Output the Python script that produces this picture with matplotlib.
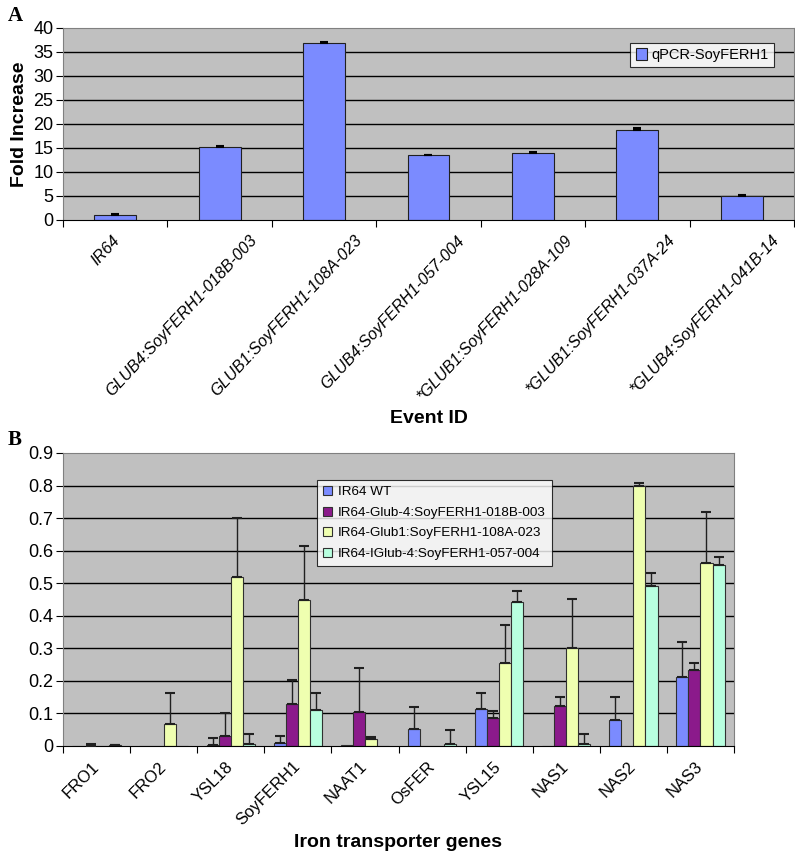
import matplotlib
matplotlib.use("Agg")
import matplotlib.pyplot as plt
import matplotlib.transforms as mtransforms
import numpy as np

plt.rcParams['font.family'] = ['Liberation Sans', 'DejaVu Sans']

# panel A data
events = ['IR64', 'GLUB4:SoyFERH1-018B-003', 'GLUB1:SoyFERH1-108A-023',
          'GLUB4:SoyFERH1-057-004', '*GLUB1:SoyFERH1-028A-109',
          '*GLUB1:SoyFERH1-037A-24', '*GLUB4:SoyFERH1-041B-14']
fold = [1.0, 15.2, 36.9, 13.5, 14.0, 18.8, 5.0]
fold_err = [0.2, 0.15, 0.2, 0.1, 0.2, 0.3, 0.15]

# panel B data
genes = ['FRO1', 'FRO2', 'YSL18', 'SoyFERH1', 'NAAT1', 'OsFER', 'YSL15', 'NAS1', 'NAS2', 'NAS3']
series = ['IR64 WT', 'IR64-Glub-4:SoyFERH1-018B-003',
          'IR64-Glub1:SoyFERH1-108A-023', 'IR64-IGlub-4:SoyFERH1-057-004']
wt = [0, 0, 0.003, 0.010, 0.002, 0.052, 0.114, 0, 0.080, 0.212]
wt_err = [0, 0, 0.023, 0.022, 0, 0.068, 0.048, 0, 0.070, 0.106]
g4 = [0.001, 0, 0.030, 0.128, 0.103, 0, 0.087, 0.124, 0, 0.232]
g4_err = [0.005, 0, 0.070, 0.075, 0.138, 0, 0.021, 0.026, 0, 0.022]
g1 = [0, 0.068, 0.520, 0.450, 0.020, 0, 0.254, 0.302, 0.798, 0.562]
g1_err = [0, 0.094, 0.180, 0.165, 0.008, 0, 0.118, 0.150, 0.010, 0.158]
ig4 = [0.002, 0, 0.007, 0.112, 0, 0.006, 0.443, 0.006, 0.490, 0.555]
ig4_err = [0.002, 0, 0.031, 0.050, 0, 0.042, 0.032, 0.032, 0.040, 0.025]

colors_b = ['#7b8bff', '#8b1a8b', '#efffb0', '#b8ffdf']
bg = '#c0c0c0'

fig = plt.figure(figsize=(7.95, 8.52), dpi=100)

def style_axes(ax, ymax, step, ncat):
    ax.set_facecolor(bg)
    ax.set_ylim(0, ymax)
    ax.set_xlim(0, ncat)
    ax.set_yticks(np.arange(0, ymax + step / 2, step))
    for y in np.arange(step, ymax - step / 2, step):
        ax.axhline(y, color='black', lw=1.0, zorder=1)
    for s in ['top', 'right', 'left']:
        ax.spines[s].set_color('#808080')
    ax.spines['bottom'].set_color('black')
    ax.set_xticks(np.arange(0, ncat + 1), minor=False)
    ax.tick_params(axis='x', which='major', length=5, direction='out', labelbottom=False)
    ax.tick_params(axis='y', length=5, direction='out', labelsize=13, pad=2)
    ax.set_xticks(np.arange(ncat) + 0.5, minor=True)
    ax.tick_params(axis='x', which='minor', length=0)

# ---- panel A
axA = fig.add_axes([63 / 795, 1 - 220 / 852, 731 / 795, 192 / 852])
style_axes(axA, 40, 5, len(events))
xa = np.arange(len(events)) + 0.5
axA.bar(xa, fold, width=0.4, color='#7b8bff', edgecolor='#202020', lw=0.8,
        zorder=2, label='qPCR-SoyFERH1')
axA.errorbar(xa, fold, yerr=[np.zeros(len(fold)), fold_err], fmt='none',
             ecolor='black', elinewidth=1, capsize=3, capthick=1.5, zorder=3)
labsA = axA.set_xticklabels(events, minor=True, rotation=47, ha='right',
                            rotation_mode='anchor', va='center',
                            fontsize=11.6, style='italic')
axA.tick_params(axis='x', which='minor', labelbottom=True, pad=13)
# long rotated labels sit a little right of the bar centre, as in the original
for t in labsA:
    shift = 1.75 * (len(t.get_text()) - 3) / 100
    t.set_transform(t.get_transform() +
                    mtransforms.ScaledTranslation(shift, 0, fig.dpi_scale_trans))
axA.set_ylabel('Fold Increase', fontsize=14, fontweight='bold', labelpad=4)
axA.set_xlabel('Event ID', fontsize=14, fontweight='bold')
axA.xaxis.set_label_coords(0.5, -0.99)
legA = axA.legend(loc='upper right', bbox_to_anchor=(0.9726, 0.922), borderaxespad=0,
                  frameon=True, fancybox=False, edgecolor='black', fontsize=10.5,
                  handlelength=0.8, handleheight=0.8, handletextpad=0.3, borderpad=0.35)
legA.get_frame().set_linewidth(0.8)
fig.text(8 / 795, 1 - 16 / 852, 'A', fontsize=15, fontweight='bold',
         family='Liberation Serif', va='center')

# ---- panel B
axB = fig.add_axes([63 / 795, 1 - 746 / 852, 671 / 795, 293 / 852])
style_axes(axB, 0.9, 0.1, len(genes))
axB.set_yticklabels(['0'] + ['%.1f' % v for v in np.arange(0.1, 0.95, 0.1)])
xb = np.arange(len(genes)) + 0.5
bw = 0.18
vals = [wt, g4, g1, ig4]
errs = [wt_err, g4_err, g1_err, ig4_err]
for i, (v, e) in enumerate(zip(vals, errs)):
    pos = xb + (i - 1.5) * bw
    axB.bar(pos, v, width=bw, color=colors_b[i], edgecolor='#303030', lw=0.8,
            zorder=2, label=series[i])
    v = np.array(v)
    e = np.array(e)
    m = e > 0
    axB.errorbar(pos[m], v[m], yerr=[np.zeros(m.sum()), e[m]], fmt='none',
                 ecolor='#202020', elinewidth=1, capsize=3.5, capthick=1.5, zorder=3)
axB.set_xticklabels(genes, minor=True, rotation=45, ha='right', rotation_mode='anchor',
                    va='center', fontsize=12)
axB.tick_params(axis='x', which='minor', labelbottom=True, pad=13)
axB.set_xlabel('Iron transporter genes', fontsize=14, fontweight='bold')
axB.xaxis.set_label_coords(0.5, -0.3)
legB = axB.legend(loc='upper left', bbox_to_anchor=(0.3785, 0.908), borderaxespad=0,
                  frameon=True, fancybox=False, edgecolor='black', fontsize=9.7,
                  handlelength=0.7, handleheight=0.7, handletextpad=0.4, borderpad=0.45,
                  labelspacing=0.6)
legB.get_frame().set_linewidth(0.8)
fig.text(8 / 795, 1 - 440 / 852, 'B', fontsize=15, fontweight='bold',
         family='Liberation Serif', va='center')

fig.savefig('out.png', dpi=100, facecolor='white')
